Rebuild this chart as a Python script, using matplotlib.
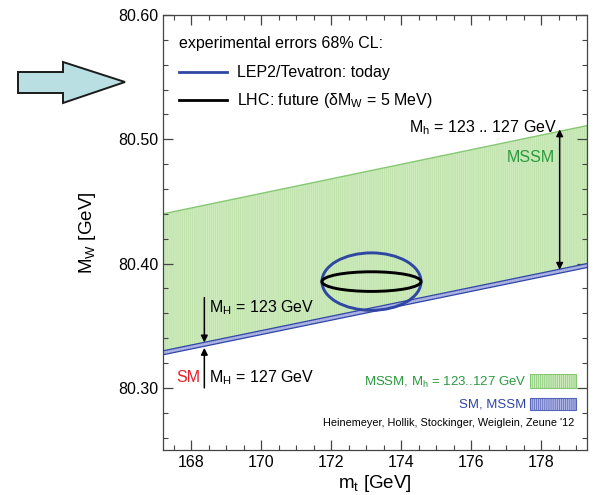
import matplotlib

matplotlib.use("Agg")
import matplotlib.pyplot as plt
from matplotlib.patches import Ellipse, Polygon, Rectangle

# ── data ────────────────────────────────────────────────────────────────────
mt_edges = [167.2, 179.3]              # band end points (m_t in GeV)
mssm_upper = [80.440, 80.511]          # top of MSSM band
sm_upper = [80.3298, 80.400]           # top of SM band (= bottom of MSSM band)
sm_lower = [80.3266, 80.3968]          # bottom of SM band

today_center = (173.15, 80.3855)       # LEP2/Tevatron ellipse
today_halfwidths = (1.414, 0.0231)
lhc_halfwidths = (1.414, 0.0079)       # LHC future, dMW = 5 MeV

mh_arrow_x = 168.38
mh123_arrow = (80.3726, 80.3365)
mh127_arrow = (80.300, 80.3322)
mssm_arrow_x = 178.52
mssm_arrow = (80.395, 80.508)

xticks = [168, 170, 172, 174, 176, 178]
yticks = [80.30, 80.40, 80.50, 80.60]

GREEN_FACE = "#cdebbd"
GREEN_HATCH = "#bde2a8"
GREEN_EDGE = "#86c874"
GREEN_TEXT = "#2a9a3e"
BLUE = "#2f46a3"
BLUE_FACE = "#b0b6e6"
BLUE_HATCH = "#9ea6dc"
RED = "#e8202b"

plt.rcParams["font.family"] = ["Liberation Sans", "DejaVu Sans"]
plt.rcParams["mathtext.fontset"] = "custom"
plt.rcParams["mathtext.rm"] = "Liberation Sans"
plt.rcParams["mathtext.it"] = "Liberation Sans"
plt.rcParams["hatch.linewidth"] = 0.5

fig = plt.figure(figsize=(5.94, 4.95), dpi=100)
ax = fig.add_axes([0.2744, 0.0909, 0.7138, 0.8788])

# ── bands ───────────────────────────────────────────────────────────────────
ax.fill_between(mt_edges, sm_upper, mssm_upper, facecolor=GREEN_FACE,
                edgecolor=GREEN_HATCH, hatch="||||||||", linewidth=0, zorder=1)
ax.plot(mt_edges, mssm_upper, color=GREEN_EDGE, lw=1.0, zorder=2)
ax.fill_between(mt_edges, sm_lower, sm_upper, facecolor=BLUE_FACE,
                edgecolor=BLUE_HATCH, hatch="||||||||", linewidth=0, zorder=2)
ax.plot(mt_edges, sm_upper, color=BLUE, lw=0.9, zorder=3)
ax.plot(mt_edges, sm_lower, color=BLUE, lw=0.9, zorder=3)

# ── ellipses ────────────────────────────────────────────────────────────────
ax.add_patch(Ellipse(today_center, 2 * today_halfwidths[0], 2 * today_halfwidths[1],
                     fill=False, edgecolor=BLUE, lw=2.1, zorder=5))
ax.add_patch(Ellipse(today_center, 2 * lhc_halfwidths[0], 2 * lhc_halfwidths[1],
                     fill=False, edgecolor="black", lw=2.1, zorder=6))

# ── arrows ──────────────────────────────────────────────────────────────────
arrow_kw = dict(arrowstyle="-|>", color="black", lw=1.1, mutation_scale=10,
                shrinkA=0, shrinkB=0)
ax.annotate("", xy=(mh_arrow_x, mh123_arrow[1]), xytext=(mh_arrow_x, mh123_arrow[0]),
            arrowprops=arrow_kw, zorder=7)
ax.annotate("", xy=(mh_arrow_x, mh127_arrow[1]), xytext=(mh_arrow_x, mh127_arrow[0]),
            arrowprops=arrow_kw, zorder=7)
ax.annotate("", xy=(mssm_arrow_x, mssm_arrow[1]), xytext=(mssm_arrow_x, mssm_arrow[0]),
            arrowprops=dict(arrowstyle="<|-|>", color="black", lw=1.1,
                            mutation_scale=10, shrinkA=0, shrinkB=0), zorder=7)

# ── texts ───────────────────────────────────────────────────────────────────
fs = 11.5
ax.text(167.67, 80.5774, "experimental errors 68% CL:", fontsize=fs, va="center")
ax.plot([167.67, 169.04], [80.554, 80.554], color=BLUE, lw=2.0)
ax.text(169.32, 80.554, "LEP2/Tevatron: today", fontsize=fs, va="center")
ax.plot([167.67, 169.04], [80.5315, 80.5315], color="black", lw=2.0)
ax.text(169.32, 80.5315, r"LHC: future ($\delta$M$_\mathrm{W}$ = 5 MeV)",
        fontsize=fs, va="center")

ax.text(178.45, 80.5056, r"M$_\mathrm{h}$ = 123 .. 127 GeV", fontsize=fs,
        ha="right", va="baseline")
ax.text(178.38, 80.4855, "MSSM", fontsize=fs, color=GREEN_TEXT, ha="right",
        va="center")

ax.text(168.5, 80.3607, r"M$_\mathrm{H}$ = 123 GeV", fontsize=fs, va="baseline")
ax.text(168.5, 80.3046, r"M$_\mathrm{H}$ = 127 GeV", fontsize=fs, va="baseline")
ax.text(168.26, 80.3046, "SM", fontsize=fs, color=RED, ha="right",
        va="baseline")

ax.text(177.58, 80.304, r"MSSM, M$_\mathrm{h}$ = 123..127 GeV", fontsize=9.5,
        color=GREEN_TEXT, ha="right", va="center")
ax.add_patch(Rectangle((177.67, 80.2998), 1.33, 0.0113, facecolor=GREEN_FACE,
                       edgecolor=GREEN_EDGE, hatch="||||||||", lw=0.8))
ax.text(177.58, 80.287, "SM, MSSM", fontsize=9.5, color=BLUE, ha="right",
        va="center")
ax.add_patch(Rectangle((177.67, 80.282), 1.33, 0.0097, facecolor=BLUE_FACE,
                       edgecolor="#5563b8", hatch="||||||||", lw=0.8))
ax.text(178.95, 80.272, "Heinemeyer, Hollik, Stockinger, Weiglein, Zeune '12",
        fontsize=7.8, ha="right", va="center")

# ── axes ────────────────────────────────────────────────────────────────────
ax.set_xlim(mt_edges)
ax.set_ylim(80.25, 80.60)
ax.set_xticks(xticks)
ax.set_xticks([x / 2 for x in range(335, 359)], minor=True)
ax.set_yticks(yticks)
ax.set_yticklabels([f"{v:.2f}" for v in yticks])
ax.set_yticks([80.26 + 0.02 * i for i in range(18)], minor=True)
ax.tick_params(which="both", direction="in", top=True, right=True,
               labelsize=11.5, color="#444444")
ax.tick_params(which="major", length=7, width=0.9)
ax.tick_params(which="minor", length=3.5, width=0.8)
for sp in ax.spines.values():
    sp.set_color("#444444")
    sp.set_linewidth(0.9)
ax.set_xlabel(r"m$_\mathrm{t}$ [GeV]", fontsize=13.5, labelpad=2)
ax.set_ylabel(r"M$_\mathrm{W}$ [GeV]", fontsize=13.5, labelpad=14)

# ── the pointer arrow on the left (figure pixels) ──────────────────────────
W, H = 594, 495
arrow_px = [(18, 72), (63, 72), (63, 62), (125, 82), (63, 103), (63, 93), (18, 93)]
fig.patches.append(Polygon([(x / W, 1 - y / H) for x, y in arrow_px],
                           closed=True, transform=fig.transFigure,
                           facecolor="#b9dfe3", edgecolor="#1a1a1a", lw=1.4))

fig.savefig("out.png", dpi=100)
